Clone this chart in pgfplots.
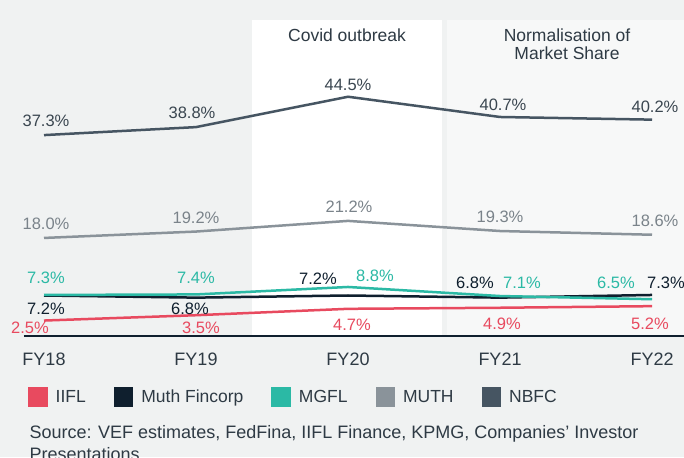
\documentclass[border=0pt]{standalone}
\usepackage{fontspec}
\setmainfont{Liberation Sans}
\usepackage{pgfplots}
\usepackage{pgfplotstable}
\pgfplotsset{compat=1.18}

\definecolor{bgcol}{HTML}{F0F2F2}
\definecolor{bandcol}{HTML}{F7F8F8}
\definecolor{txtcol}{HTML}{2E3A44}
\definecolor{iifl}{HTML}{E84A5F}
\definecolor{muthfin}{HTML}{0F1F2E}
\definecolor{mgfl}{HTML}{2BB9A5}
\definecolor{muth}{HTML}{8A939A}
\definecolor{nbfc}{HTML}{465562}
\definecolor{muthlbl}{HTML}{7A838A}
\definecolor{nbfclbl}{HTML}{3A4650}

% x  share  label shift (pt)
\pgfplotstableread{
x y dx dy
0 2.5 -14 -7
1 3.5 5 -13
2 4.7 4 -16
3 4.9 2 -16
4 5.2 -2 -18
}\iifldata
\pgfplotstableread{
x y dx dy
0 7.2 2 -13
1 6.8 -6 -11
2 7.2 -30 17
3 6.8 -25 15
4 7.3 14 12
}\muthfindata
\pgfplotstableread{
x y dx dy
0 7.3 2 17
1 7.4 0 17
2 8.8 27 11
3 7.1 22 13
4 6.5 -36 16
}\mgfldata
\pgfplotstableread{
x y dx dy
0 18.0 2 14
1 19.2 0 14
2 21.2 1 14
3 19.3 0 14
4 18.6 3 14
}\muthdata
\pgfplotstableread{
x y dx dy
0 37.3 2 14
1 38.8 -4 14
2 44.5 0 12
3 40.7 3 12
4 40.2 3 13
}\nbfcdata

\begin{document}
\begin{tikzpicture}
\fill[bgcol] (0pt,0pt) rectangle (684pt,457pt);
\useasboundingbox (0pt,0pt) rectangle (684pt,457pt);
\fill[white] (252pt,121pt) rectangle (442pt,437pt);
\fill[bandcol] (447pt,121pt) rectangle (684pt,437pt);
\node[anchor=base, font=\fontsize{17.5}{20}\selectfont, text=txtcol] at (347pt,415pt) {Covid outbreak};
\node[anchor=base, font=\fontsize{17.5}{20}\selectfont, text=txtcol] at (567pt,415pt) {Normalisation of};
\node[anchor=base, font=\fontsize{17.5}{20}\selectfont, text=txtcol] at (567pt,397pt) {Market Share};

\begin{axis}[
    at={(24pt,121pt)}, anchor=south west,
    scale only axis,
    width=660pt, height=316pt,
    xmin=-0.1316, xmax=4.2105,
    ymin=-0.4, ymax=58.9,
    clip=false,
    axis y line=none,
    axis x line*=bottom,
    x axis line style={draw=muthfin, line width=1.2pt},
    xtick={0,1,2,3,4},
    xticklabels={FY18,FY19,FY20,FY21,FY22},
    major tick length=0pt,
    xticklabel style={anchor=base, yshift=-30pt, inner sep=0pt,
        font=\fontsize{18}{20}\selectfont, text=txtcol},
    /pgf/number format/assume math mode=true,
    point meta=y,
    nodes near coords={\pgfmathprintnumber[fixed,fixed zerofill,precision=1]{\pgfplotspointmeta}\%},
    visualization depends on={\thisrow{dx} \as \dx},
    visualization depends on={\thisrow{dy} \as \dy},
    nodes near coords style={anchor=center, xshift=\dx, yshift=\dy,
        font=\fontsize{16.5}{18}\selectfont, inner sep=0pt},
    every axis plot/.append style={line width=2.5pt},
    legend image code/.code={\fill[#1] (0pt,-8.5pt) rectangle (17pt,8.5pt);
        \path (23pt,0pt);},
    legend style={at={(0,0)}, anchor=north west, xshift=4pt, yshift=-51pt,
        draw=none, fill=none, inner sep=0pt,
        font=\fontsize{17.5}{20}\selectfont, text=txtcol,
        /tikz/every even column/.append style={column sep=26pt}},
    legend columns=-1,
]
\addplot[color=iifl, nodes near coords style={text=iifl}] table[x=x,y=y] {\iifldata};
\addlegendentry{IIFL}
\addplot[color=muthfin, nodes near coords style={text=muthfin}] table[x=x,y=y] {\muthfindata};
\addlegendentry{Muth Fincorp}
\addplot[color=mgfl, nodes near coords style={text=mgfl}] table[x=x,y=y] {\mgfldata};
\addlegendentry{MGFL}
\addplot[color=muth, nodes near coords style={text=muthlbl}] table[x=x,y=y] {\muthdata};
\addlegendentry{MUTH}
\addplot[color=nbfc, nodes near coords style={text=nbfclbl}] table[x=x,y=y] {\nbfcdata};
\addlegendentry{NBFC}
\end{axis}

\node[anchor=base west, font=\fontsize{18}{20}\selectfont, text=txtcol] at (26pt,19pt)
    {Source: VEF estimates, FedFina, IIFL Finance, KPMG, Companies’ Investor};
\node[anchor=base west, font=\fontsize{18}{20}\selectfont, text=txtcol] at (26pt,-3pt)
    {Presentations};
\end{tikzpicture}
\end{document}
